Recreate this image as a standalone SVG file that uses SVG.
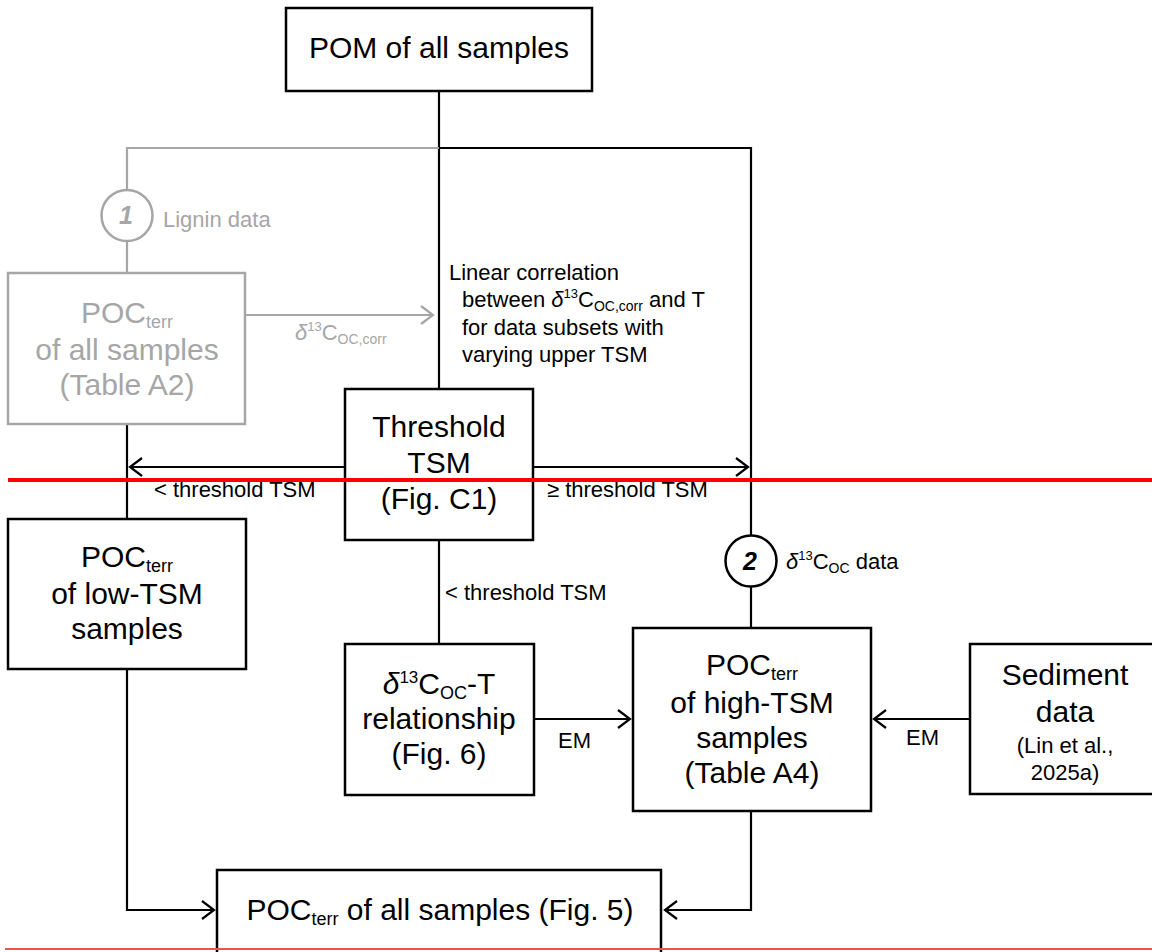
<svg xmlns="http://www.w3.org/2000/svg" width="1152" height="952" viewBox="0 0 1152 952">
<defs>
<marker id="ah" markerUnits="userSpaceOnUse" markerWidth="16" markerHeight="22" refX="12" refY="9" orient="auto" viewBox="-2 -2 16 22">
<path d="M0,0 L12,9 L0,18" fill="none" stroke="#000" stroke-width="2.2"/>
</marker>
<marker id="ahg" markerUnits="userSpaceOnUse" markerWidth="16" markerHeight="22" refX="12" refY="9" orient="auto" viewBox="-2 -2 16 22">
<path d="M0,0 L12,9 L0,18" fill="none" stroke="#a6a6a6" stroke-width="2.2"/>
</marker>
</defs>
<style>
.box{fill:#fff;stroke:#000;stroke-width:2.5}
.gbox{fill:#fff;stroke:#a6a6a6;stroke-width:2.5}
.ln{fill:none;stroke:#000;stroke-width:2.2}
.gln{fill:none;stroke:#a6a6a6;stroke-width:2.2}
text{font-family:"Liberation Sans",Arial,sans-serif;fill:#000}
.big{font-size:30px;text-anchor:middle}
.sm{font-size:22px}
.g{fill:#a6a6a6}
.num{font-size:25px;font-weight:bold;font-style:italic;text-anchor:middle}
.it{font-style:italic}
</style>
<rect width="1152" height="952" fill="#fff"/>

<g id="connectors">
<path class="ln" d="M439,91 V389"/>
<path class="gln" d="M439,148 H127 V190"/>
<path class="gln" d="M127,241 V273"/>
<path class="ln" d="M439,148 H751 V536"/>
<path class="ln" d="M751,586 V628"/>
<path class="gln" d="M245,315 H433" marker-end="url(#ahg)"/>
<path class="ln" d="M345,467 H130" marker-end="url(#ah)"/>
<path class="ln" d="M533,467 H748" marker-end="url(#ah)"/>
<path class="ln" d="M127,424 V519"/>
<path class="ln" d="M439,540 V644"/>
<path class="ln" d="M533,719 H630" marker-end="url(#ah)"/>
<path class="ln" d="M970,719 H874" marker-end="url(#ah)"/>
<path class="ln" d="M127,669 V910 H214" marker-end="url(#ah)"/>
<path class="ln" d="M751,811 V910 H665" marker-end="url(#ah)"/>
<text class="sm g" x="295" y="340"><tspan class="it">δ</tspan><tspan font-size="13" dy="-9">13</tspan><tspan dy="9">C</tspan><tspan font-size="14" dy="4">OC,corr</tspan></text>
<text class="sm" x="449" y="280">Linear correlation</text>
<text class="sm" x="462" y="307">between <tspan class="it">δ</tspan><tspan font-size="13" dy="-9">13</tspan><tspan dy="9">C</tspan><tspan font-size="14" dy="4">OC,corr</tspan><tspan dy="-4"> and T</tspan></text>
<text class="sm" x="462" y="335">for data subsets with</text>
<text class="sm" x="462" y="362">varying upper TSM</text>
<text class="sm" x="154" y="497">&lt; threshold TSM</text>
<text class="sm" x="547" y="497">≥ threshold TSM</text>
<text class="sm" x="445" y="600">&lt; threshold TSM</text>
<text class="sm" x="558" y="748">EM</text>
<text class="sm" x="906" y="745">EM</text>
<text class="sm g" x="163" y="227">Lignin data</text>
<text class="sm" x="786" y="569"><tspan class="it">δ</tspan><tspan font-size="13" dy="-9">13</tspan><tspan dy="9">C</tspan><tspan font-size="14" dy="4">OC</tspan><tspan dy="-4"> data</tspan></text>
</g>

<g id="pom">
<rect class="box" x="286" y="8" width="306" height="83"/>
<text class="big" x="439" y="58">POM of all samples</text>
</g>

<g id="circle1">
<circle cx="127" cy="215.5" r="25.5" fill="#fff" stroke="#a6a6a6" stroke-width="2.5"/>
<text class="num g" x="126" y="224">1</text>
</g>

<g id="circle2">
<circle cx="751" cy="561" r="25.5" fill="#fff" stroke="#000" stroke-width="2.5"/>
<text class="num" x="750" y="570">2</text>
</g>

<g id="poc-all-gray">
<rect class="gbox" x="8" y="273" width="237" height="151"/>
<text class="big g" x="127" y="323">POC<tspan font-size="18" dy="5">terr</tspan></text>
<text class="big g" x="127" y="360">of all samples</text>
<text class="big g" x="127" y="395">(Table A2)</text>
</g>

<g id="threshold">
<rect class="box" x="345" y="389" width="188" height="151"/>
<text class="big" x="439" y="437">Threshold</text>
<text class="big" x="439" y="473">TSM</text>
<text class="big" x="439" y="509">(Fig. C1)</text>
</g>

<g id="low-tsm">
<rect class="box" x="8" y="519" width="238" height="150"/>
<text class="big" x="127" y="567">POC<tspan font-size="18" dy="5">terr</tspan></text>
<text class="big" x="127" y="604">of low-TSM</text>
<text class="big" x="127" y="639">samples</text>
</g>

<g id="delta-t">
<rect class="box" x="345" y="644" width="189" height="151"/>
<text class="big" x="439" y="694"><tspan class="it">δ</tspan><tspan font-size="17" dy="-11">13</tspan><tspan dy="11">C</tspan><tspan font-size="18" dy="5">OC</tspan><tspan dy="-5">-T</tspan></text>
<text class="big" x="439" y="729">relationship</text>
<text class="big" x="439" y="764">(Fig. 6)</text>
</g>

<g id="high-tsm">
<rect class="box" x="633" y="628" width="238" height="183"/>
<text class="big" x="752" y="675">POC<tspan font-size="18" dy="5">terr</tspan></text>
<text class="big" x="752" y="713">of high-TSM</text>
<text class="big" x="752" y="748">samples</text>
<text class="big" x="752" y="783">(Table A4)</text>
</g>

<g id="sediment">
<rect class="box" x="970" y="644" width="195" height="150"/>
<text class="big" x="1065" y="685">Sediment</text>
<text class="big" x="1065" y="722">data</text>
<text class="sm" x="1065" y="753" text-anchor="middle">(Lin et al.,</text>
<text class="sm" x="1065" y="780" text-anchor="middle">2025a)</text>
</g>

<g id="poc-all">
<rect class="box" x="217" y="870" width="444" height="90"/>
<text class="big" x="440" y="920">POC<tspan font-size="18" dy="5">terr</tspan><tspan dy="-5"> of all samples (Fig. 5)</tspan></text>
</g>

<g id="red-lines">
<line x1="8" y1="480" x2="1152" y2="480" stroke="#ff0000" stroke-width="4"/>
<line x1="5" y1="949" x2="1152" y2="949" stroke="#f05050" stroke-width="2"/>
</g>
</svg>
